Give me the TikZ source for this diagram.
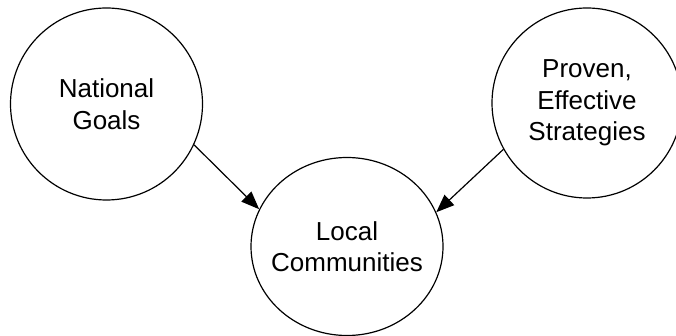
\documentclass[tikz,border=0pt]{standalone}
\usepackage{fontspec}
\setmainfont{Liberation Sans}
\usetikzlibrary{arrows.meta,shapes.geometric}
\begin{document}
\begin{tikzpicture}[x=1pt,y=-1pt,
  bub/.style={draw, line width=1.2pt, circle, inner sep=0pt},
  txt/.style={align=center, inner sep=0pt, font=\fontsize{26}{31.5}\selectfont},
  conn/.style={line width=1.2pt, -{Triangle[length=18pt,width=14pt]}}]
\useasboundingbox (0,0) rectangle (676,336);
\clip (0,0) rectangle (676,336);
\node[bub, minimum size=192pt] (nat) at (106.5,104) {};
\node[txt] (nattxt) at (nat) {National\\Goals};
\node[bub, minimum size=190pt] (pro) at (587,103) {};
\node[txt] (protxt) at (pro) {Proven,\\Effective\\Strategies};
\node[bub, ellipse, minimum width=192pt, minimum height=178pt] (loc) at (347,246.5) {};
\node[txt] (loctxt) at (loc) {Local\\Communities};
\draw[conn] (nat.-25) -- (loc.157);
\draw[conn] (pro.209) -- (loc.21);
\end{tikzpicture}
\end{document}
